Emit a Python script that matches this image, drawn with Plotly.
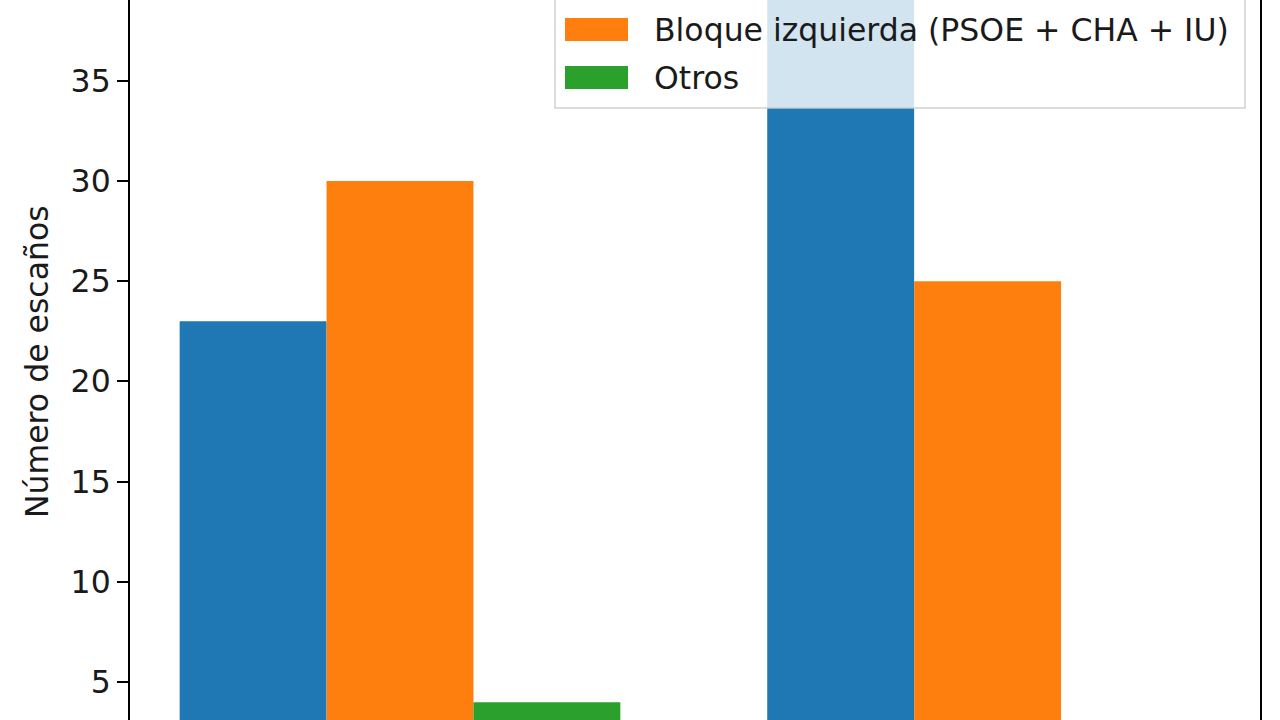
import plotly.graph_objects as go

# ---- data ----
categories = ["Grupo 1", "Grupo 2"]
series_names = [
    "Bloque derecha",
    "Bloque izquierda (PSOE + CHA + IU)",
    "Otros",
]
bloque_derecha = [23, 41]
bloque_izquierda = [30, 25]
otros = [4, 1]
series_values = [bloque_derecha, bloque_izquierda, otros]
colors = ["#1f77b4", "#ff7f0e", "#2ca02c"]

y_ticks = [5, 10, 15, 20, 25, 30, 35]
y_title = "Número de escaños"

# ---- layout constants (pixels) ----
W, H = 1280, 720
ML, MR, MT, MB = 130, 20, 0, 0
PW, PH = W - ML - MR, H - MT - MB
FONT = "DejaVu Sans"
FS = 31.5


def px_x(p):
    return (p - ML) / PW


def px_y(p):
    return 1 - (p - MT) / PH


fig = go.Figure()
for name, vals, col in zip(series_names, series_values, colors):
    fig.add_trace(go.Bar(x=categories, y=vals, name=name,
                         marker=dict(color=col, line=dict(width=0)),
                         showlegend=False))

fig.update_layout(
    width=W, height=H,
    margin=dict(l=ML, r=MR, t=MT, b=MB, autoexpand=False),
    barmode="group", bargap=0.25, bargroupgap=0,
    plot_bgcolor="white", paper_bgcolor="white",
    font=dict(family=FONT, size=FS, color="#000000"),
)
fig.update_xaxes(range=[-0.4595, 1.4636], showgrid=False, zeroline=False,
                 showline=False, ticks="", showticklabels=False)
fig.update_yaxes(range=[3.12, 39.02], tickvals=y_ticks, showgrid=False,
                 zeroline=False, showline=True, mirror=True,
                 linecolor="#000000", linewidth=2, ticks="outside",
                 ticklen=11, tickwidth=2, tickcolor="#000000",
                 tickfont=dict(family=FONT, size=FS, color="#1a1a1a"))

# y-axis title
fig.add_annotation(text=y_title, textangle=-90, xref="paper", yref="paper",
                   x=px_x(37), y=px_y(362), xanchor="center", yanchor="middle",
                   showarrow=False, font=dict(family=FONT, size=FS, color="#1a1a1a"))

# ---- legend (manual; the first row lies above the visible area) ----
shapes = [dict(type="rect", xref="paper", yref="paper", layer="above",
               x0=px_x(555), x1=px_x(1245), y0=px_y(108), y1=px_y(-80),
               fillcolor="rgba(255,255,255,0.8)",
               line=dict(color="rgba(204,204,204,0.9)", width=1.5))]
row_centers = [-18.5, 29.5, 77.5]
for i, (name, col, rc) in enumerate(zip(series_names, colors, row_centers)):
    if rc < 0:
        continue  # row outside the visible window
    shapes.append(dict(type="rect", xref="paper", yref="paper", layer="above",
                       x0=px_x(565), x1=px_x(628), y0=px_y(rc + 11.5), y1=px_y(rc - 11.5),
                       fillcolor=col, line=dict(width=0)))
    fig.add_annotation(text=name, xref="paper", yref="paper",
                       x=px_x(652), y=px_y(rc + 1), xanchor="left", yanchor="middle",
                       showarrow=False, font=dict(family=FONT, size=FS, color="#1a1a1a"))
fig.update_layout(shapes=shapes)

fig.write_html("out.html", config={"displayModeBar": False},
               post_script="document.body.style.margin='0';document.body.style.padding='0';document.body.style.overflow='hidden';")
